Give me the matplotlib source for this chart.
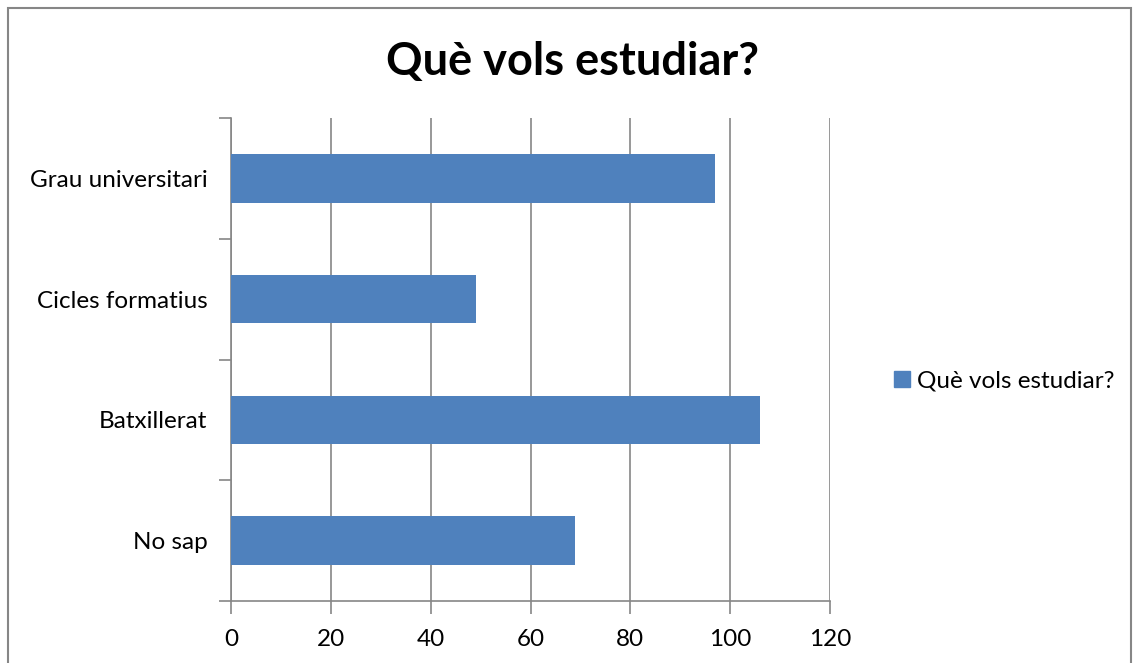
import matplotlib
matplotlib.use("Agg")
import matplotlib.pyplot as plt
from matplotlib.patches import Rectangle, Patch

categories = ["No sap", "Batxillerat", "Cicles formatius", "Grau universitari"]
values = [69, 106, 49, 97]
xticks = [0, 20, 40, 60, 80, 100, 120]
title = "Què vols estudiar?"
series_name = "Què vols estudiar?"

plt.rcParams['font.family'] = ['Lato', 'DejaVu Sans']

W, H = 1134, 663
fig = plt.figure(figsize=(W/100, H/100), dpi=100)

# outer chart border
fig.patches.append(Rectangle((8/W, -0.05), (1131-8)/W, (H-8)/H + 0.05, transform=fig.transFigure,
                             fill=False, edgecolor='#868686', linewidth=1.5))

ax = fig.add_axes([231/W, 1-601/H, (830-231)/W, (601-118)/H])
bar_color = '#4F81BD'
ypos = list(range(len(categories)))
ax.barh(ypos, values, height=0.4, color=bar_color, zorder=3)
ax.set_xlim(0, 120)
ax.set_ylim(-0.5, len(categories)-0.5)
ax.set_xticks(xticks)
ax.set_xticklabels([str(t) for t in xticks], fontsize=17.5)
ax.set_yticks(ypos)
ax.set_yticklabels(categories, fontsize=17.5)
ax.set_yticks([i - 0.5 for i in range(len(categories)+1)], minor=True)
ax.tick_params(axis='y', which='major', length=0, pad=17)
ax.tick_params(axis='y', which='minor', length=9, color='#868686', width=1.2, direction='out')
ax.tick_params(axis='x', length=9, color='#868686', width=1.2, direction='out', pad=11)
ax.grid(axis='x', color='#868686', linewidth=1.2, zorder=0)
for s in ['top', 'right']:
    ax.spines[s].set_visible(False)
for s in ['left', 'bottom']:
    ax.spines[s].set_color('#868686')
    ax.spines[s].set_linewidth(1.2)

fig.text(572/W, 1-62/H, title, ha='center', va='center', fontsize=32.5, fontweight='bold')

fig.legend(handles=[Patch(color=bar_color, label=series_name)], loc='center left',
           bbox_to_anchor=(872/W, 1-381/H), frameon=False, fontsize=17.5,
           handlelength=0.65, handleheight=0.65, handletextpad=0.3)

fig.savefig("out.png", dpi=100)
